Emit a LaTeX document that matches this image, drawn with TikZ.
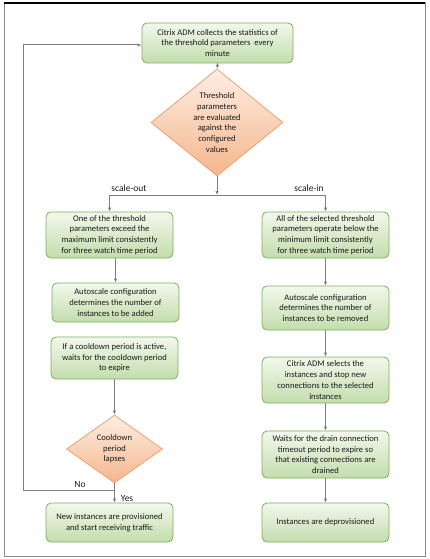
\documentclass[tikz,border=0pt]{standalone}
\usepackage{fontspec}
\setmainfont{Carlito}
\usetikzlibrary{shapes.geometric,arrows.meta}
\definecolor{boxborder}{HTML}{7FAE5C}
\definecolor{boxtop}{HTML}{F2F8EC}
\definecolor{boxbot}{HTML}{C3DDAC}
\definecolor{dmborder}{HTML}{E8A274}
\definecolor{dmtop}{HTML}{FDEEE3}
\definecolor{dmbot}{HTML}{F5B68C}
\definecolor{arrowgray}{HTML}{7F7F7F}
\definecolor{txt}{HTML}{1A1A1A}
\tikzset{
  flowbox/.style={draw=boxborder, line width=0.8pt, rounded corners=5pt,
    top color=boxtop, bottom color=boxbot, minimum width=127pt,
    inner sep=0pt, align=center, text=txt,
    font=\fontsize{8.6}{10.7}\selectfont},
  decide/.style={diamond, draw=dmborder, line width=0.8pt,
    top color=dmtop, bottom color=dmbot, inner sep=0pt, align=center,
    text=txt, font=\fontsize{8.6}{10.7}\selectfont},
  conn/.style={draw=arrowgray, line width=1pt, -{Latex[length=4pt,width=3.5pt]}},
  plain/.style={draw=arrowgray, line width=1pt},
  lbl/.style={text=txt, inner sep=0pt, font=\fontsize{9.5}{11}\selectfont}
}
\begin{document}
\begin{tikzpicture}[x=1pt,y=-1pt]
\useasboundingbox (0,0) rectangle (430,559);
% frame
\draw[draw=arrowgray!90, line width=1pt] (4,3) rectangle (425,556);
\draw[black, line width=1.2pt] (4,3) -- (425,3);

\node[flowbox, minimum width=151pt, minimum height=40pt] (top) at (217.5,43)
  {Citrix ADM collects the statistics of\\the threshold parameters\ \ every\\minute};
\node[decide, minimum width=132pt, minimum height=89pt] (d1) at (217,122.5)
  {Threshold\\parameters\\are evaluated\\against the\\configured\\values};

\coordinate (split) at (217,195);
\coordinate (sl) at (109.5,195);
\coordinate (sr) at (325.5,195);

% left column
\node[flowbox, minimum height=46pt] (l1) at (109.5,235)
  {One of the threshold\\parameters exceed the\\maximum limit consistently\\for three watch time period};
\node[flowbox, minimum height=39pt] (l2) at (115.5,302.5)
  {Autoscale configuration\\determines the number of\\instances to be added};
\node[flowbox, minimum height=42pt] (l3) at (114.5,358)
  {If a cooldown period is active,\\waits for the cooldown period\\to expire};
\node[decide, minimum width=96pt, minimum height=68pt] (d2) at (114.5,449)
  {Cooldown\\period\\lapses};
\node[flowbox, minimum height=39pt] (l4) at (109.5,522.5)
  {New instances are provisioned\\and start receiving traffic};

% right column
\node[flowbox, minimum height=46pt] (r1) at (325.5,235)
  {All of the selected threshold\\parameters operate below the\\minimum limit consistently\\for three watch time period};
\node[flowbox, minimum height=44pt] (r2) at (325.5,308)
  {Autoscale configuration\\determines the number of\\instances to be removed};
\node[flowbox, minimum height=46pt] (r3) at (325.5,380)
  {Citrix ADM selects the\\instances and stop new\\connections to the selected\\instances};
\node[flowbox, minimum height=47pt] (r4) at (325.5,454.5)
  {Waits for the drain connection\\timeout period to expire so\\that existing connections are\\drained};
\node[flowbox, minimum height=39pt] (r5) at (325.5,522.5)
  {Instances are deprovisioned};

% labels
\node[lbl] (so) at (129,188) {scale-out};
\node[lbl] (si) at (309,188) {scale-in};
\node[lbl] (no) at (80,484) {No};
\node[lbl] (yes) at (127,498) {Yes};

% connectors
\draw[conn] (top) -- (d1);
\draw[conn] (d1) -- (split);
\draw[plain] (sl) -- (sr);
\draw[conn] (sl) -- (sl |- l1.north);
\draw[conn] (sr) -- (r1);
\draw[conn] (l2.north |- l1.south) -- (l2);
\draw[conn] (l3.south) -- (d2);
\coordinate (nob) at (d2.south |- 0,490);
\draw[conn] (d2.south) -- (d2.south |- l4.north);
\coordinate (nol) at (23,490);
\coordinate (notop) at (23,45);
\draw[conn] (nob) -- (nol) -- (notop) -- (notop -| top.west);
\draw[conn] (r1) -- (r2);
\draw[conn] (r2) -- (r3);
\draw[conn] (r3) -- (r4);
\draw[conn] (r4) -- (r5);
\end{tikzpicture}
\end{document}
